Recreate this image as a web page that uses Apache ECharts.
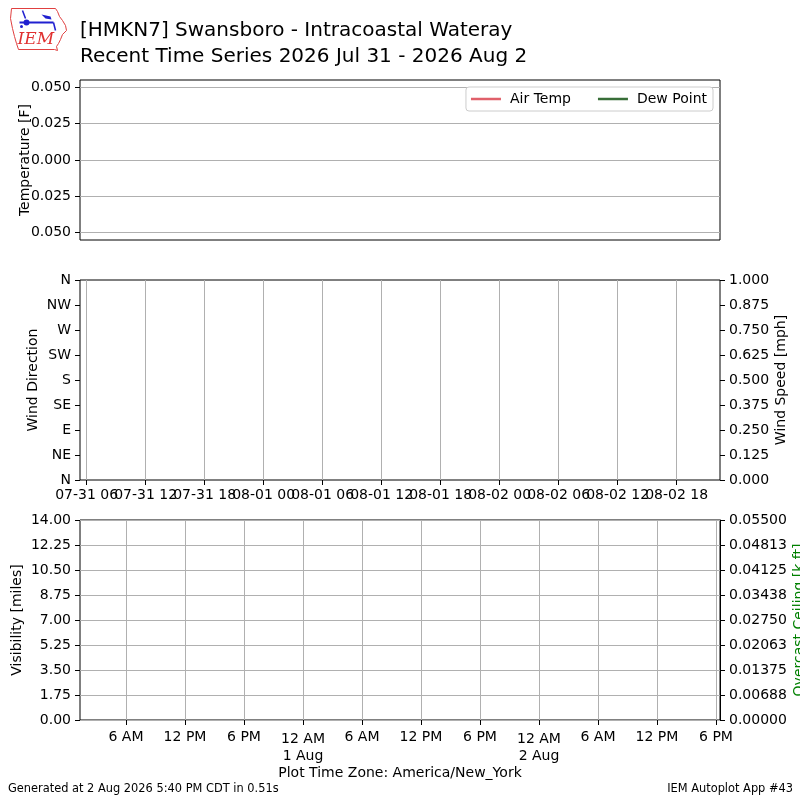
<!DOCTYPE html>
<html><head><meta charset="utf-8">
<script src="https://cdn.jsdelivr.net/npm/echarts@6/dist/echarts.min.js"></script>
<style>html,body{margin:0;padding:0;background:#fff}#c{width:800px;height:800px}</style>
</head><body><div id="c"></div>
<script>
// ---- data ----
const titleLine1 = '[HMKN7] Swansboro - Intracoastal Wateray';
const titleLine2 = 'Recent Time Series 2026 Jul 31 - 2026 Aug 2';
const seriesNames = ['Air Temp', 'Dew Point'];
const airTemp = [];      // no observations in the period
const dewPoint = [];     // no observations in the period
const xStartHour = 5.32;   // hours after 2026-07-31 00:00 UTC
const xEndHour = 70.41;
const utcTickHours = [6, 12, 18, 24, 30, 36, 42, 48, 54, 60, 66];
const utcDayNames = ['07-31', '08-01', '08-02'];
const localTickHours = [10, 16, 22, 28, 34, 40, 46, 52, 58, 64, 70]; // UTC hours of local 6-hourly ticks
const utcOffset = -4;
const localDayNames = ['31 Jul', '1 Aug', '2 Aug'];
const tempTicks = [-0.05, -0.025, 0, 0.025, 0.05];
const tempRange = [-0.055, 0.055];
const dirLabels = ['N', 'NE', 'E', 'SE', 'S', 'SW', 'W', 'NW', 'N'];
const windSpeedRange = [0, 1];
const windSpeedStep = 0.125;
const visRange = [0, 14];
const visStep = 1.75;
const ceilRange = [0, 0.055];
const ceilStep = 0.006875;
const footerLeft = 'Generated at 2 Aug 2026 5:40 PM CDT in 0.51s';
const footerRight = 'IEM Autoplot App #43';
const tzLabel = 'Plot Time Zone: America/New_York';

// ---- chart ----
const FONT = 'DejaVu Sans';
const gridColor = '#b0b0b0';
const lbl = {color: '#000', fontFamily: FONT, fontSize: 14};
const nameStyle = {color: '#000', fontFamily: FONT, fontSize: 14};
const tick = {show: true, length: 5, lineStyle: {color: '#000', width: 1}};
const split = {show: true, lineStyle: {color: gridColor, width: 1}};
function pad2(n){ return (n < 10 ? '0' : '') + n; }
function utcLabel(v){
  if (utcTickHours.indexOf(v) < 0) return '';
  const h = Math.round(v); return utcDayNames[Math.floor(h/24)] + ' ' + pad2(h % 24);
}
function localLabel(v){
  const l = Math.round(v) + utcOffset;
  const hod = ((l % 24) + 24) % 24;
  const day = Math.floor(l / 24);
  if (hod === 0) return '{d|12 AM\n' + localDayNames[day] + '}';
  if (hod === 6) return '6 AM';
  if (hod === 12) return '12 PM';
  return '6 PM';
}
const grids = [
  {left: 80, top: 80, width: 640, height: 160},
  {left: 80, top: 280, width: 640, height: 200},
  {left: 80, top: 520, width: 640, height: 200}
].map(g => Object.assign(g, {show: true, borderColor: '#000', borderWidth: 1, backgroundColor: 'transparent', containLabel: false, outerBoundsMode: 'none'}));

const chart = echarts.init(document.getElementById('c'), null, {renderer: 'canvas'});
chart.setOption({
  animation: false,
  backgroundColor: '#fff',
  title: {
    text: titleLine1 + '\n' + titleLine2,
    left: 75, top: 13,
    textStyle: {fontFamily: FONT, fontSize: 20, fontWeight: 'normal', color: '#000', lineHeight: 26}
  },
  legend: {
    data: seriesNames.map(n => ({name: n, icon: 'rect'})), right: 87, top: 87, orient: 'horizontal',
    itemWidth: 30, itemHeight: 2.5, itemGap: 27,
    padding: [5, 6, 5, 5],
    borderColor: '#cccccc', borderWidth: 1, borderRadius: 3, backgroundColor: '#fff',
    textStyle: {color: '#000', fontFamily: FONT, fontSize: 14, padding: [0, 0, 0, 4], lineHeight: 14}
  },
  grid: grids,
  xAxis: [
    {gridIndex: 0, type: 'value', min: xStartHour, max: xEndHour,
     axisLine: {show: false}, axisTick: {show: false}, axisLabel: {show: false}, splitLine: {show: false}},
    {gridIndex: 1, type: 'value', min: xStartHour, max: xEndHour,
     axisLine: {show: false},
     axisTick: Object.assign({customValues: utcTickHours}, tick),
     axisLabel: Object.assign({customValues: [xStartHour].concat(utcTickHours, [xEndHour]), formatter: utcLabel,
       margin: 8, interval: 0, hideOverlap: false}, lbl),
     splitLine: split},
    {gridIndex: 2, type: 'value', min: xStartHour, max: xEndHour,
     name: tzLabel, nameLocation: 'middle', nameGap: 46, nameMoveOverlap: false,
     nameTextStyle: nameStyle,
     axisLine: {show: false},
     axisTick: Object.assign({customValues: localTickHours}, tick),
     axisLabel: Object.assign({customValues: localTickHours, formatter: localLabel, margin: 9, interval: 0, hideOverlap: false, lineHeight: 17,
       rich: {d: {fontFamily: FONT, fontSize: 14, color: '#000', lineHeight: 17, padding: [3, 0, 0, 0]}}}, lbl),
     splitLine: split}
  ],
  yAxis: [
    {gridIndex: 0, type: 'value', min: tempRange[0], max: tempRange[1],
     name: 'Temperature [F]', nameLocation: 'middle', nameRotate: 90, nameGap: 48, nameMoveOverlap: false,
     nameTextStyle: nameStyle,
     axisLine: {show: false},
     axisTick: Object.assign({customValues: tempTicks}, tick),
     axisLabel: Object.assign({customValues: tempTicks, formatter: v => Math.abs(v).toFixed(3), margin: 9}, lbl),
     splitLine: split},
    {gridIndex: 1, type: 'value', min: 0, max: 360, interval: 45,
     name: 'Wind Direction', nameLocation: 'middle', nameRotate: 90, nameGap: 40, nameMoveOverlap: false,
     nameTextStyle: nameStyle,
     axisLine: {show: false}, axisTick: tick,
     axisLabel: Object.assign({formatter: v => dirLabels[Math.round(v / 45)], margin: 9}, lbl),
     splitLine: {show: false}},
    {gridIndex: 1, type: 'value', position: 'right', min: windSpeedRange[0], max: windSpeedRange[1], interval: windSpeedStep,
     name: 'Wind Speed [mph]', nameLocation: 'middle', nameRotate: 90, nameGap: 54, nameMoveOverlap: false,
     nameTextStyle: nameStyle,
     axisLine: {show: false}, axisTick: tick,
     axisLabel: Object.assign({formatter: v => v.toFixed(3), margin: 9}, lbl),
     splitLine: {show: false}},
    {gridIndex: 2, type: 'value', min: visRange[0], max: visRange[1], interval: visStep,
     name: 'Visibility [miles]', nameLocation: 'middle', nameRotate: 90, nameGap: 56, nameMoveOverlap: false,
     nameTextStyle: nameStyle,
     axisLine: {show: false}, axisTick: tick,
     axisLabel: Object.assign({formatter: v => v.toFixed(2), margin: 9}, lbl),
     splitLine: split},
    {gridIndex: 2, type: 'value', position: 'right', min: ceilRange[0], max: ceilRange[1], interval: ceilStep,
     name: 'Overcast Ceiling [k ft]', nameLocation: 'middle', nameRotate: 90, nameGap: 72, nameMoveOverlap: false,
     nameTextStyle: {color: '#008000', fontFamily: FONT, fontSize: 14},
     axisLine: {show: true, lineStyle: {color: '#000', width: 1}}, axisTick: tick,
     axisLabel: Object.assign({formatter: v => (Math.round(v * 1e5 + 1e-6) / 1e5).toFixed(5), margin: 9}, lbl),
     splitLine: {show: false}}
  ],
  series: [
    {name: seriesNames[0], type: 'line', xAxisIndex: 0, yAxisIndex: 0, data: airTemp, symbol: 'none', showSymbol: false,
     lineStyle: {color: '#e0606a', width: 2}, itemStyle: {color: '#e0606a'}},
    {name: seriesNames[1], type: 'line', xAxisIndex: 0, yAxisIndex: 0, data: dewPoint, symbol: 'none', showSymbol: false,
     lineStyle: {color: '#386e38', width: 2}, itemStyle: {color: '#386e38'}}
  ],
  graphic: [
    {type: 'group', left: 8, top: 6, children: [
      {type: 'polyline', shape: {points: [[2,2],[46,2],[48,5],[50,10],[53,14],[56,19],[57,24],[53,28],[51,33],[49,37],[47,40],[48,44],[45,43],[9,43],[7,37],[5,30],[3,22],[1,12],[2,2]]},
       style: {stroke: '#e04040', lineWidth: 1, fill: null}},
      {type: 'line', shape: {x1: 10, y1: 16, x2: 44, y2: 16}, style: {stroke: '#2020d0', lineWidth: 2}},
      {type: 'circle', shape: {cx: 17, cy: 16, r: 3}, style: {fill: '#2020d0'}},
      {type: 'polygon', shape: {points: [[32,8],[41,10],[42,13],[36,12]]}, style: {fill: '#2020d0'}},
      {type: 'line', shape: {x1: 13, y1: 4, x2: 16, y2: 12}, style: {stroke: '#2020d0', lineWidth: 1.5}},
      {type: 'line', shape: {x1: 44, y1: 16, x2: 46, y2: 24}, style: {stroke: '#2020d0', lineWidth: 1.5}},
      {type: 'circle', shape: {cx: 12, cy: 20, r: 1.5}, style: {fill: '#2020d0'}},
      {type: 'text', x: 8, y: 25, style: {text: 'IEM', fill: '#e03030', font: 'italic 17px "DejaVu Serif", "Liberation Serif", serif'}}
    ]},
    {type: 'text', left: 8, top: 784, style: {text: footerLeft, fill: '#000', font: '11.4px "DejaVu Sans"'}},
    {type: 'text', right: 7, top: 784, style: {text: footerRight, fill: '#000', font: '11.4px "DejaVu Sans"'}}
  ]
});
</script>
</body></html>
